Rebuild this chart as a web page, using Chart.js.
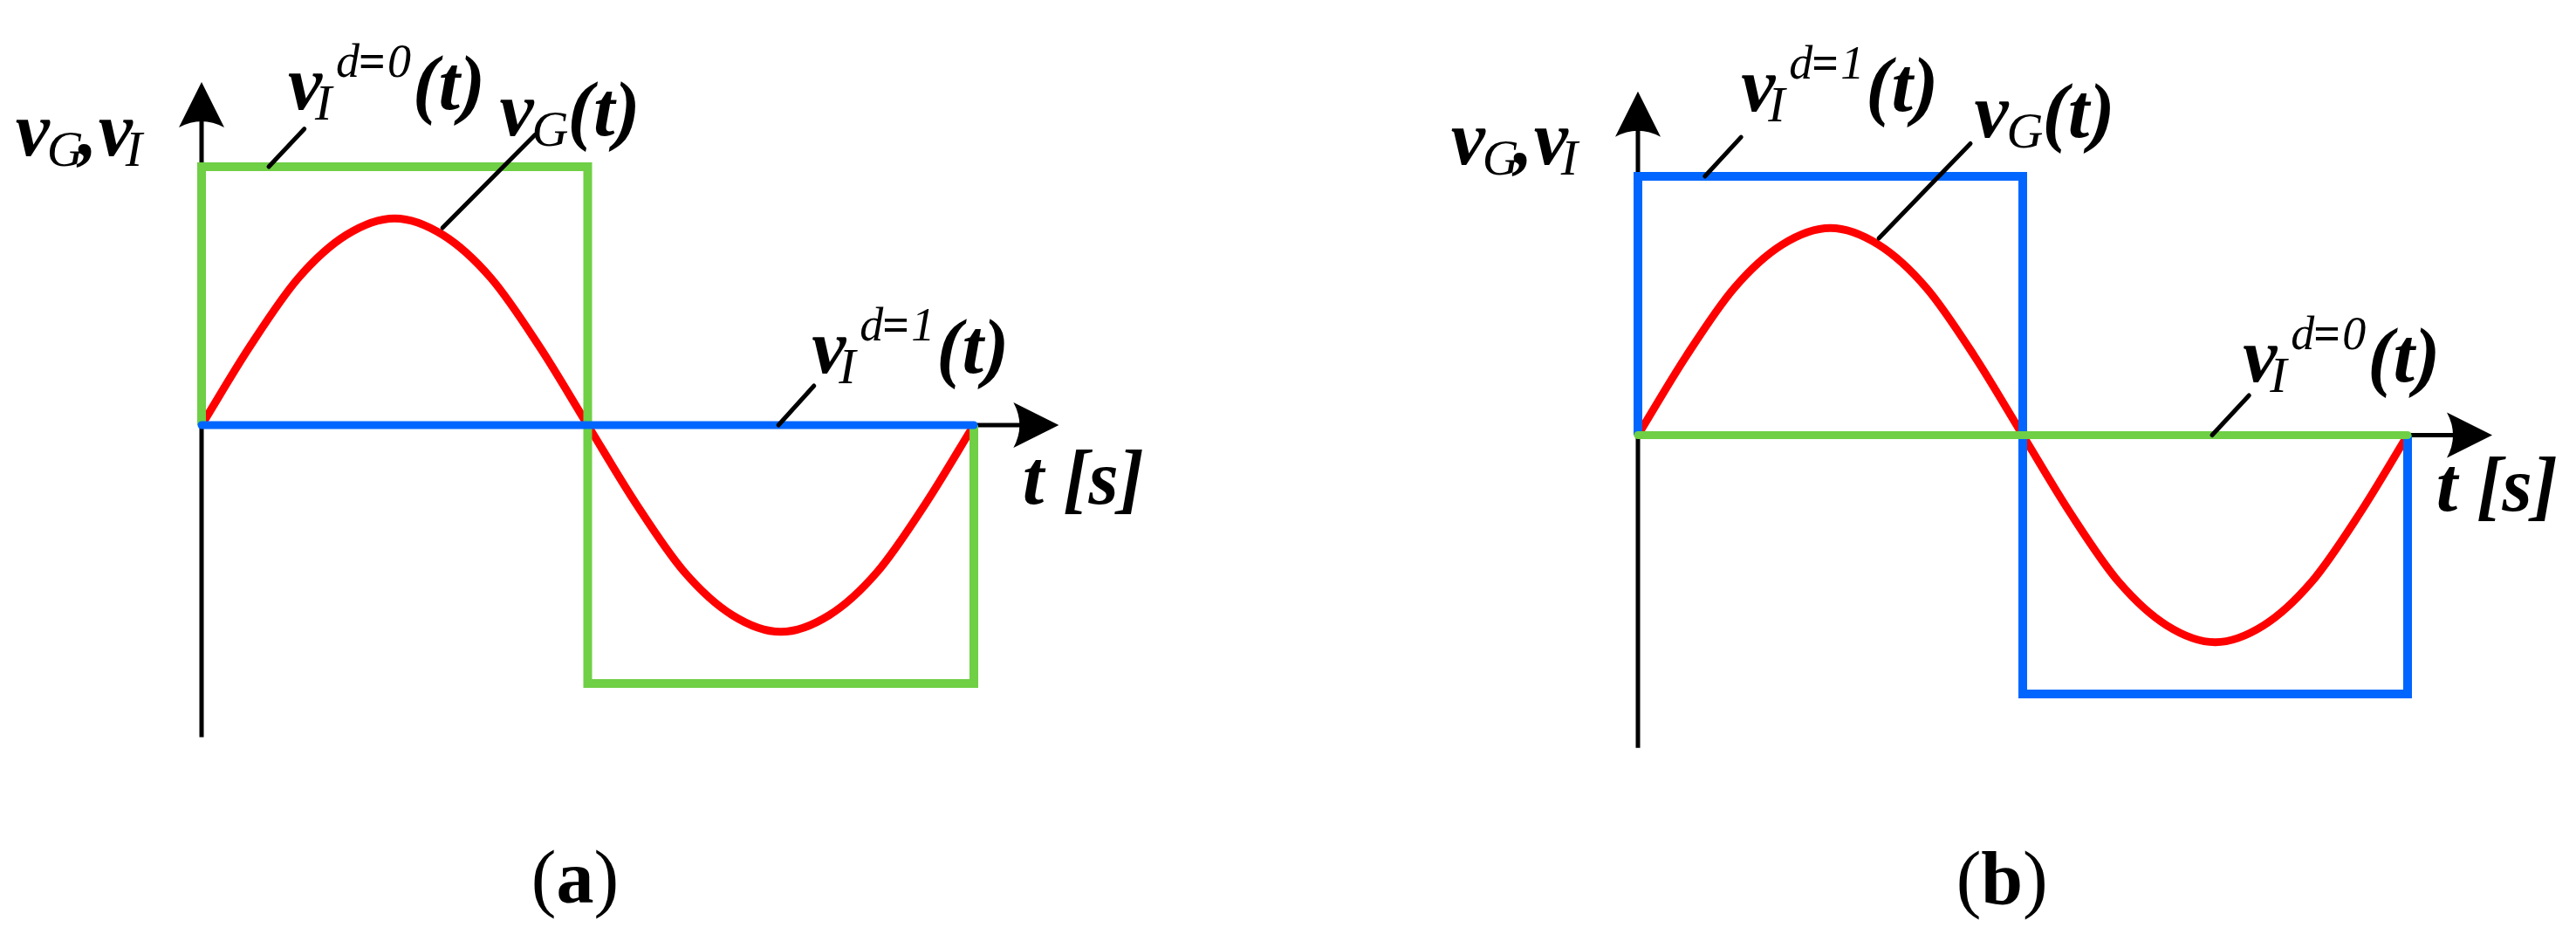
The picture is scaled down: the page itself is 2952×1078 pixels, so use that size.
<!DOCTYPE html>
<html>
<head>
<meta charset="utf-8">
<script src="https://cdn.jsdelivr.net/npm/chart.js@4.4.1/dist/chart.umd.min.js"></script>
<style>
body{margin:0;background:#fff;}
#wrap{position:relative;width:2952px;height:1078px;background:#fff;}
canvas{position:absolute;top:0;}
</style>
</head>
<body>
<div id="wrap">
<canvas id="chartA" width="1476" height="1078" style="left:0"></canvas>
<canvas id="chartB" width="1476" height="1078" style="left:1476px"></canvas>
</div>
<script>
// time axis (one period, normalised) and grid voltage
const tGrid = [0, 0.0625, 0.125, 0.1875, 0.25, 0.3125, 0.375, 0.4375, 0.5,
               0.5625, 0.625, 0.6875, 0.75, 0.8125, 0.875, 0.9375, 1];
const vG = [0, 0.38, 0.71, 0.92, 1, 0.92, 0.71, 0.38, 0,
            -0.38, -0.71, -0.92, -1, -0.92, -0.71, -0.38, 0];

// inverter output, square wave (switching) and flat (off)
const tSquare = [0, 0, 0.5, 0.5, 1, 1];
const vSquare = [0, 1.25, 1.25, -1.25, -1.25, 0];
const tFlat = [0, 1];
const vFlat = [0, 0];

const GREEN = '#6fcf45';
const BLUE = '#0066ff';
const RED = '#ff0000';
const FONT = '"Liberation Serif", "Times New Roman", serif';

const pts = (xs, ys) => xs.map((x, i) => ({x: x, y: ys[i]}));

// label pieces: [text, size, bold, italic, dx, dy]
const lblVI = (k) => [
  ['v', 88, true, true, 0, 0],
  ['I', 58, false, true, 31, 12],
  ['d', 54, false, true, 55, -37],
  ['=', 54, true, false, 81, -37],
  [k, 54, false, true, 114, -37],
  ['(t)', 88, true, true, 143, 0]
];
const lblVG = [
  ['v', 88, true, true, 0, 0],
  ['G', 58, false, true, 37, 12],
  ['(t)', 88, true, true, 78, 0]
];
const lblAxisY = [
  ['v', 88, true, true, 0, 0],
  ['G', 58, false, true, 36, 12],
  [',', 88, true, true, 72, 0],
  ['v', 88, true, true, 95, 0],
  ['I', 58, false, true, 126, 12]
];
const lblAxisX = [['t [s]', 88, true, true, 0, 0]];

function drawPieces(ctx, x, y, pieces) {
  ctx.fillStyle = '#000';
  ctx.textBaseline = 'alphabetic';
  ctx.textAlign = 'left';
  pieces.forEach(p => {
    ctx.font = (p[3] ? 'italic ' : '') + (p[2] ? 'bold ' : '') + p[1] + 'px ' + FONT;
    ctx.fillText(p[0], x + p[4], y + p[5]);
  });
}

function drawCaption(ctx, cx, y, letter) {
  const parts = [['(', false], [letter, true], [')', false]];
  let w = 0;
  parts.forEach(p => {
    ctx.font = (p[1] ? 'bold ' : '') + '86px ' + FONT;
    w += ctx.measureText(p[0]).width;
  });
  let x = cx - w / 2;
  ctx.fillStyle = '#000';
  parts.forEach(p => {
    ctx.font = (p[1] ? 'bold ' : '') + '86px ' + FONT;
    ctx.fillText(p[0], x, y);
    x += ctx.measureText(p[0]).width;
  });
}

const decorPlugin = {
  id: 'decor',
  beforeDatasetsDraw(chart, args, opts) {
    const ctx = chart.ctx, xs = chart.scales.x, ys = chart.scales.y;
    const x0 = xs.getPixelForValue(0), y0 = ys.getPixelForValue(0);
    const topY = ys.getPixelForValue(1.66), botY = ys.getPixelForValue(-1.51);
    const tipX = xs.getPixelForValue(1.11);
    ctx.save();
    ctx.strokeStyle = '#000';
    ctx.fillStyle = '#000';
    ctx.lineWidth = 5;
    ctx.beginPath();
    ctx.moveTo(x0, botY); ctx.lineTo(x0, topY + 40);
    ctx.moveTo(x0, y0); ctx.lineTo(tipX - 40, y0);
    ctx.stroke();
    // arrow heads
    ctx.beginPath();
    ctx.moveTo(x0, topY);
    ctx.lineTo(x0 + 26, topY + 52);
    ctx.quadraticCurveTo(x0, topY + 38, x0 - 26, topY + 52);
    ctx.closePath();
    ctx.fill();
    ctx.beginPath();
    ctx.moveTo(tipX, y0);
    ctx.lineTo(tipX - 52, y0 + 26);
    ctx.quadraticCurveTo(tipX - 38, y0, tipX - 52, y0 - 26);
    ctx.closePath();
    ctx.fill();
    ctx.restore();
  },
  afterDatasetsDraw(chart, args, opts) {
    const ctx = chart.ctx, xs = chart.scales.x, ys = chart.scales.y;
    const px = (u) => xs.getPixelForValue(u), py = (v) => ys.getPixelForValue(v);
    ctx.save();
    ctx.strokeStyle = '#000';
    ctx.lineWidth = 5;
    ctx.lineCap = 'round';
    opts.leaders.forEach(l => {
      ctx.beginPath();
      ctx.moveTo(px(l[0]), py(l[1]));
      ctx.lineTo(px(l[2]), py(l[3]));
      ctx.stroke();
    });
    opts.labels.forEach(l => drawPieces(ctx, px(l[0]), py(l[1]), l[2]));
    drawCaption(ctx, px(opts.caption[0]), py(opts.caption[1]), opts.caption[2]);
    ctx.restore();
  }
};

function makeChart(id, pad, squareColor, flatColor, decor) {
  return new Chart(document.getElementById(id), {
    type: 'line',
    data: {
      datasets: [
        {data: pts(tFlat, vFlat), borderColor: flatColor, borderWidth: 9,
         borderCapStyle: 'round', tension: 0, clip: false},
        {data: pts(tSquare, vSquare), borderColor: squareColor, borderWidth: 10,
         borderJoinStyle: 'miter', borderCapStyle: 'butt', tension: 0, clip: false},
        {data: pts(tGrid, vG), borderColor: RED, borderWidth: 9,
         cubicInterpolationMode: 'monotone', clip: false}
      ]
    },
    options: {
      responsive: false,
      animation: false,
      devicePixelRatio: 1,
      layout: {padding: pad},
      elements: {point: {radius: 0}},
      scales: {
        x: {type: 'linear', min: 0, max: 1, display: false},
        y: {min: -1.25, max: 1.25, display: false}
      },
      plugins: {
        legend: {display: false},
        tooltip: {enabled: false},
        decor: decor
      }
    },
    plugins: [decorPlugin]
  });
}

makeChart('chartA', {left: 231, right: 360, top: 191, bottom: 295}, GREEN, BLUE, {
  leaders: [[0.087, 1.25, 0.133, 1.433], [0.312, 0.954, 0.432, 1.405], [0.747, 0, 0.793, 0.19]],
  labels: [[-0.241, 1.304, lblAxisY], [0.112, 1.527, lblVI('0')], [0.386, 1.401, lblVG],
           [0.790, 0.253, lblVI('1')], [1.063, -0.380, lblAxisX]],
  caption: [0.4836, -2.312, 'a']
});

makeChart('chartB', {left: 401, right: 193, top: 202, bottom: 283}, BLUE, GREEN, {
  leaders: [[0.087, 1.25, 0.134, 1.439], [0.313, 0.951, 0.432, 1.408], [0.746, 0, 0.794, 0.192]],
  labels: [[-0.243, 1.309, lblAxisY], [0.134, 1.566, lblVI('1')], [0.437, 1.440, lblVG],
           [0.786, 0.259, lblVI('0')], [1.037, -0.365, lblAxisX]],
  caption: [0.473, -2.262, 'b']
});
</script>
</body>
</html>
